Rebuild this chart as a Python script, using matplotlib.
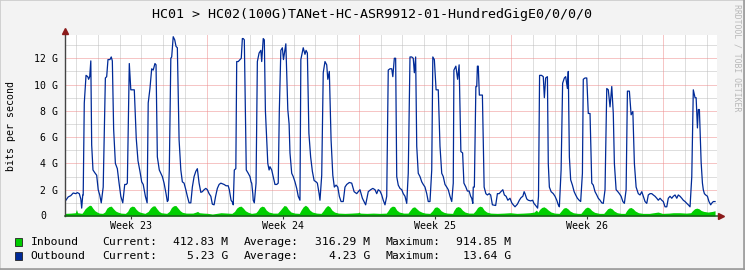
import matplotlib
matplotlib.use("Agg")
import matplotlib.pyplot as plt
from matplotlib.patches import Rectangle

# ---------------------------------------------------------------
# Data, time in days from left edge
# ---------------------------------------------------------------
out_days = [
    0.02, 0.17, 0.29, 0.40, 0.52, 0.59, 0.68, 0.75, 0.79, 0.84, 0.86, 0.91, 0.99, 1.07, 1.11, 1.16,
    1.21, 1.25, 1.31, 1.39, 1.48, 1.55, 1.62, 1.69, 1.78, 1.88, 1.94, 2.00, 2.09, 2.15, 2.20, 2.26,
    2.34, 2.43, 2.51, 2.59, 2.68, 2.77, 2.84, 2.89, 2.98, 3.05, 3.21, 3.30, 3.38, 3.47, 3.55, 3.62,
    3.72, 3.80, 3.85, 3.93, 4.01, 4.08, 4.16, 4.21, 4.27, 4.36, 4.43, 4.50, 4.58, 4.67, 4.73, 4.77,
    4.82, 4.89, 4.93, 5.00, 5.07, 5.13, 5.19, 5.27, 5.35, 5.42, 5.50, 5.58, 5.65, 5.73, 5.81, 5.88,
    5.96, 6.04, 6.11, 6.19, 6.27, 6.34, 6.42, 6.50, 6.57, 6.65, 6.73, 6.80, 6.88, 6.95, 7.03, 7.11,
    7.19, 7.26, 7.34, 7.43, 7.53, 7.58, 7.66, 7.74, 7.76, 7.81, 7.88, 7.92, 7.99, 8.07, 8.13, 8.18,
    8.22, 8.27, 8.32, 8.36, 8.45, 8.53, 8.58, 8.61, 8.66, 8.68, 8.73, 8.81, 8.87, 8.95, 9.03, 9.07,
    9.14, 9.19, 9.24, 9.30, 9.35, 9.41, 9.45, 9.53, 9.60, 9.68, 9.76, 9.83, 9.88, 9.95, 10.02, 10.07,
    10.18, 10.27, 10.33, 10.37, 10.45, 10.52, 10.60, 10.68, 10.75, 10.83, 10.87, 10.98, 11.06, 11.11, 11.17, 11.24,
    11.32, 11.40, 11.48, 11.57, 11.63, 11.71, 11.75, 11.83, 11.90, 11.98, 12.06, 12.11, 12.18, 12.26, 12.34, 12.41,
    12.49, 12.57, 12.64, 12.72, 12.82, 12.90, 12.98, 13.10, 13.21, 13.32, 13.44, 13.51, 13.59, 13.70, 13.85, 13.97,
    14.08, 14.18, 14.28, 14.36, 14.43, 14.51, 14.59, 14.66, 14.74, 14.82, 14.89, 14.97, 15.05, 15.10, 15.17, 15.23,
    15.28, 15.35, 15.43, 15.51, 15.58, 15.66, 15.74, 15.81, 15.89, 15.97, 16.04, 16.09, 16.15, 16.20, 16.27, 16.35,
    16.43, 16.50, 16.58, 16.66, 16.73, 16.81, 16.89, 16.94, 17.01, 17.09, 17.19, 17.27, 17.35, 17.42, 17.50, 17.58,
    17.65, 17.73, 17.81, 17.88, 17.91, 18.00, 18.08, 18.15, 18.23, 18.31, 18.37, 18.46, 18.53, 18.61, 18.68, 18.73,
    18.78, 18.80, 18.85, 18.92, 18.96, 18.99, 19.03, 19.08, 19.22, 19.30, 19.38, 19.45, 19.53, 19.60, 19.68, 19.83,
    19.91, 19.99, 20.07, 20.16, 20.23, 20.31, 20.39, 20.49, 20.57, 20.64, 20.72, 20.83, 20.92, 21.00, 21.08, 21.14,
    21.18, 21.26, 21.33, 21.44, 21.53, 21.59, 21.67, 21.76, 21.80, 21.85, 21.94, 22.02, 22.07, 22.13, 22.21, 22.25,
    22.30, 22.38, 22.48, 22.56, 22.64, 22.71, 22.76, 22.84, 22.91, 22.99, 23.05, 23.13, 23.17, 23.22, 23.28, 23.36,
    23.44, 23.51, 23.59, 23.67, 23.74, 23.82, 23.86, 23.94, 24.02, 24.09, 24.17, 24.25, 24.32, 24.40, 24.48, 24.55,
    24.63, 24.71, 24.78, 24.86, 24.94, 25.01, 25.09, 25.17, 25.24, 25.29, 25.37, 25.45, 25.52, 25.60, 25.68, 25.75,
    25.83, 25.89, 25.98, 26.06, 26.14, 26.21, 26.29, 26.39, 26.47, 26.55, 26.62, 26.70, 26.78, 26.85, 26.93, 27.01,
    27.08, 27.16, 27.24, 27.31, 27.39, 27.47, 27.54, 27.62, 27.70, 27.77, 27.85, 27.93, 28.00, 28.08, 28.16, 28.23,
    28.31, 28.39, 28.46, 28.54, 28.62, 28.69, 28.77, 28.85, 28.92, 29.00, 29.05, 29.11, 29.15, 29.20, 29.28, 29.34,
    29.38, 29.43, 29.49, 29.57, 29.64, 29.72, 29.76, 29.84, 29.92,
]
out_gbps = [
    1.1, 1.45, 1.55, 1.75, 1.7, 1.78, 1.7, 1.3, 0.6, 1.6, 1.6, 8.6, 10.7, 10.6, 10.4, 10.6,
    11.8, 5.4, 3.5, 3.3, 3.1, 2.0, 1.6, 1.0, 2.2, 10.5, 10.6, 11.9, 11.9, 12.1, 11.8, 6.6,
    4.0, 3.6, 2.5, 1.5, 1.0, 2.4, 2.4, 2.5, 11.6, 9.6, 9.6, 5.9, 4.2, 3.4, 2.6, 2.4,
    1.5, 1.0, 8.6, 9.7, 11.2, 11.1, 11.6, 11.5, 4.5, 3.5, 3.25, 3.0, 2.5, 1.7, 1.1, 1.2,
    3.5, 12.0, 12.1, 13.64, 13.4, 12.9, 12.8, 5.8, 3.5, 2.6, 2.5, 2.0, 1.5, 1.0, 1.0, 2.2,
    3.0, 3.4, 3.6, 2.5, 1.8, 1.85, 2.0, 2.1, 2.0, 1.7, 1.5, 0.9, 0.85, 1.5, 2.1, 2.4,
    2.5, 2.45, 2.4, 2.3, 2.3, 2.0, 1.2, 1.0, 0.85, 3.5, 3.6, 11.75, 11.75, 11.9, 12.0, 13.5,
    13.5, 13.4, 8.0, 3.5, 3.25, 3.0, 2.6, 2.5, 1.7, 1.2, 1.0, 2.5, 11.75, 12.4, 12.6, 11.75,
    13.5, 13.4, 8.0, 5.8, 4.0, 3.5, 3.75, 3.5, 3.0, 2.4, 2.4, 2.5, 8.0, 12.6, 12.8, 11.9,
    13.1, 8.1, 7.0, 4.8, 3.25, 3.0, 2.6, 2.1, 1.5, 1.2, 11.9, 12.8, 12.3, 12.6, 12.4, 6.3,
    4.5, 3.4, 2.7, 2.6, 2.5, 1.7, 1.2, 3.1, 10.9, 11.75, 11.5, 10.4, 11.0, 5.8, 3.1, 2.2,
    2.35, 2.2, 1.5, 1.1, 1.1, 2.2, 2.4, 2.55, 2.5, 1.85, 1.7, 1.85, 2.0, 1.35, 0.85, 1.85,
    2.0, 2.1, 2.0, 1.7, 2.0, 1.9, 1.6, 1.2, 0.85, 1.5, 11.1, 11.2, 11.2, 10.6, 12.0, 12.0,
    3.0, 2.35, 2.1, 2.0, 1.7, 1.5, 0.96, 3.25, 12.1, 12.1, 12.0, 10.9, 12.1, 5.3, 3.25, 3.0,
    2.6, 2.4, 2.2, 1.7, 1.1, 1.1, 3.5, 12.1, 11.9, 9.6, 9.6, 5.3, 3.25, 3.0, 2.4, 2.2,
    2.0, 1.5, 1.1, 2.5, 11.1, 11.4, 10.4, 11.5, 4.9, 4.8, 2.5, 2.2, 1.9, 1.9, 1.5, 1.35,
    0.96, 2.2, 2.2, 9.85, 9.85, 11.4, 11.4, 9.2, 9.2, 2.2, 1.7, 1.6, 1.7, 1.6, 0.85, 0.8,
    1.7, 1.7, 1.85, 2.0, 1.6, 1.5, 1.2, 1.35, 1.0, 0.85, 0.7, 0.9, 1.2, 1.4, 1.5, 1.85,
    1.7, 1.3, 1.2, 1.15, 1.2, 0.96, 0.8, 0.6, 1.5, 10.7, 10.7, 10.6, 9.0, 10.5, 10.6, 4.0,
    2.2, 1.85, 1.7, 1.5, 1.2, 0.85, 0.7, 3.5, 10.1, 10.5, 10.6, 9.7, 11.0, 4.5, 2.75, 2.35,
    1.85, 1.6, 1.35, 1.2, 1.1, 3.25, 10.4, 10.5, 10.5, 7.8, 7.8, 2.5, 2.35, 1.85, 1.6, 1.35,
    1.2, 1.0, 0.96, 2.0, 9.7, 9.6, 8.3, 9.85, 7.8, 4.0, 2.0, 1.85, 1.7, 1.5, 1.1, 0.96,
    2.0, 9.5, 9.5, 7.7, 7.95, 4.0, 2.2, 1.7, 1.6, 1.85, 1.5, 1.1, 0.96, 1.6, 1.7, 1.7,
    1.6, 1.5, 1.35, 1.2, 1.35, 1.2, 1.1, 0.7, 0.7, 1.35, 1.5, 1.35, 1.5, 1.6, 1.35, 1.6,
    1.5, 1.35, 1.2, 1.1, 0.96, 0.85, 0.7, 3.0, 9.6, 9.0, 9.0, 6.7, 8.1, 8.1, 4.1, 2.5,
    2.0, 1.7, 1.6, 1.5, 1.1, 0.85, 0.96, 1.1, 1.1,
]

in_days = [
    0.02, 0.30, 0.50, 0.55, 0.60, 0.80, 0.85, 0.95, 1.05, 1.15, 1.22, 1.30, 1.40, 1.50, 1.60, 1.75,
    1.85, 1.95, 2.05, 2.15, 2.25, 2.35, 2.45, 2.60, 2.80, 2.90, 3.00, 3.10, 3.20, 3.30, 3.40, 3.50,
    3.70, 3.85, 3.95, 4.05, 4.15, 4.25, 4.35, 4.45, 4.70, 4.82, 4.92, 5.02, 5.12, 5.22, 5.32, 5.42,
    5.60, 5.90, 6.05, 6.12, 6.20, 6.40, 6.60, 6.80, 7.00, 7.20, 7.50, 7.70, 7.82, 7.92, 8.02, 8.12,
    8.22, 8.32, 8.45, 8.60, 8.80, 8.88, 8.98, 9.08, 9.18, 9.28, 9.40, 9.60, 9.80, 9.90, 10.00, 10.10,
    10.20, 10.30, 10.42, 10.60, 10.80, 10.88, 10.98, 11.08, 11.18, 11.28, 11.40, 11.60, 11.80, 11.90, 12.00, 12.10,
    12.20, 12.30, 12.42, 12.60, 12.90, 13.20, 13.50, 13.55, 13.60, 13.90, 14.20, 14.50, 14.80, 14.88, 14.98, 15.08,
    15.18, 15.28, 15.40, 15.60, 15.80, 15.90, 16.00, 16.10, 16.20, 16.30, 16.45, 16.60, 16.80, 16.92, 17.02, 17.12,
    17.22, 17.32, 17.45, 17.60, 17.85, 17.90, 18.00, 18.10, 18.20, 18.30, 18.42, 18.60, 18.80, 18.90, 19.00, 19.10,
    19.20, 19.30, 19.42, 19.60, 19.90, 20.20, 20.50, 20.80, 21.10, 21.40, 21.60, 21.70, 21.78, 21.85, 21.95, 22.05,
    22.15, 22.25, 22.38, 22.55, 22.75, 22.85, 22.95, 23.05, 23.15, 23.25, 23.40, 23.60, 23.75, 23.85, 23.95, 24.05,
    24.15, 24.25, 24.38, 24.60, 24.80, 24.88, 24.98, 25.08, 25.18, 25.28, 25.42, 25.60, 25.78, 25.85, 25.95, 26.05,
    26.15, 26.25, 26.40, 26.60, 26.90, 27.10, 27.30, 27.50, 27.80, 28.00, 28.30, 28.60, 28.80, 28.88, 28.98, 29.08,
    29.18, 29.28, 29.40, 29.60, 29.80, 29.92,
]
in_gbps = [
    0.2, 0.22, 0.25, 0.5, 0.25, 0.2, 0.3, 0.55, 0.7, 0.82, 0.8, 0.6, 0.4, 0.3, 0.22, 0.2,
    0.3, 0.6, 0.72, 0.75, 0.55, 0.38, 0.3, 0.22, 0.2, 0.35, 0.65, 0.75, 0.72, 0.5, 0.35, 0.28,
    0.2, 0.35, 0.6, 0.75, 0.78, 0.55, 0.35, 0.25, 0.2, 0.35, 0.65, 0.78, 0.8, 0.6, 0.4, 0.28,
    0.22, 0.22, 0.3, 0.35, 0.25, 0.22, 0.2, 0.15, 0.2, 0.25, 0.22, 0.2, 0.35, 0.6, 0.72, 0.75,
    0.6, 0.4, 0.28, 0.2, 0.25, 0.4, 0.65, 0.75, 0.7, 0.45, 0.3, 0.22, 0.22, 0.4, 0.6, 0.8,
    0.75, 0.5, 0.3, 0.22, 0.2, 0.45, 0.7, 0.82, 0.7, 0.45, 0.3, 0.22, 0.2, 0.4, 0.65, 0.8,
    0.7, 0.45, 0.3, 0.22, 0.2, 0.22, 0.25, 0.3, 0.22, 0.2, 0.22, 0.2, 0.22, 0.4, 0.65, 0.75,
    0.72, 0.45, 0.3, 0.22, 0.22, 0.45, 0.65, 0.7, 0.55, 0.4, 0.28, 0.22, 0.2, 0.4, 0.65, 0.7,
    0.6, 0.4, 0.28, 0.22, 0.2, 0.4, 0.65, 0.72, 0.65, 0.45, 0.3, 0.22, 0.22, 0.4, 0.65, 0.75,
    0.7, 0.45, 0.3, 0.22, 0.2, 0.22, 0.25, 0.2, 0.22, 0.25, 0.3, 0.45, 0.3, 0.5, 0.65, 0.7,
    0.6, 0.45, 0.3, 0.22, 0.2, 0.4, 0.6, 0.65, 0.55, 0.38, 0.25, 0.2, 0.2, 0.4, 0.6, 0.68,
    0.6, 0.42, 0.28, 0.2, 0.2, 0.35, 0.55, 0.62, 0.55, 0.38, 0.25, 0.2, 0.2, 0.4, 0.6, 0.65,
    0.55, 0.38, 0.25, 0.2, 0.2, 0.25, 0.3, 0.2, 0.22, 0.25, 0.25, 0.22, 0.25, 0.4, 0.55, 0.6,
    0.55, 0.42, 0.35, 0.3, 0.35, 0.4,
]

TITLE = "HC01 > HC02(100G)TANet-HC-ASR9912-01-HundredGigE0/0/0/0"
WEEK_LABELS = ["Week 23", "Week 24", "Week 25", "Week 26"]
WEEK_LABEL_DAYS = [3.04, 10.04, 17.04, 24.04]
DAY_LINES = [0.54 + k for k in range(30)]
WEEK_LINES = [6.54, 13.54, 20.54, 27.54]
Y_TICKS = [2, 4, 6, 8, 10, 12]
Y_TICK_LABELS = ["2 G", "4 G", "6 G", "8 G", "10 G", "12 G"]

LEGEND_NAMES = ["Inbound", "Outbound"]
LEGEND_COLORS = ["#00CC00", "#002A97"]
CURRENT = ["412.83 M", "5.23 G"]
AVERAGE = ["316.29 M", "4.23 G"]
MAXIMUM = ["914.85 M", "13.64 G"]

# ---------------------------------------------------------------
W, H = 745, 270
MONO = "DejaVu Sans Mono"


def fx(x):
    return x / W


def fy(y):
    return 1 - y / H


fig = plt.figure(figsize=(W / 100, H / 100), dpi=100, facecolor="#F3F3F3")
ax = fig.add_axes([fx(64.5), fy(216), 652.5 / W, 181 / H])
ax.set_facecolor("white")
ax.set_xlim(0, 30.01)
ax.set_ylim(0, 13.77)
for s in ax.spines.values():
    s.set_visible(False)

# grid: grey minor lines, red major lines (dotted, as rrdtool draws them)
dot = (0, (1, 1))
for d in DAY_LINES:
    if d not in WEEK_LINES:
        ax.axvline(d, color="#BEBEBE", lw=0.72, ls=dot, zorder=1)
for g in range(1, 14):
    col = "#EE8C8C" if g % 2 == 0 else "#BEBEBE"
    ax.axhline(g, color=col, lw=0.72, ls=dot, zorder=1)
for d in WEEK_LINES:
    ax.axvline(d, color="#EE8C8C", lw=0.72, ls=dot, zorder=1)

ax.fill_between(in_days, 0, in_gbps, color="#00CF00", lw=0, zorder=3)
ax.plot(out_days, out_gbps, color="#002A97", lw=0.9, zorder=4)

# axes with arrows
ax.plot([0, 0], [0, 14.0], color="#444444", lw=1.0, clip_on=False, zorder=5)
ax.plot([0, 30.2], [0, 0], color="#1E5A1E", lw=1.1, clip_on=False, zorder=5)
ax.plot([0], [14.05], marker="^", ms=4.5, color="#8B1A1A", clip_on=False, zorder=6)
ax.plot([30.2], [0], marker=">", ms=4.5, color="#8B1A1A", clip_on=False, zorder=6)

ax.set_xticks(WEEK_LABEL_DAYS, WEEK_LABELS, fontfamily=MONO, fontsize=7.2)
ax.tick_params(axis="x", length=2.5, width=0.8, color="#333333", pad=1.2)
ax.set_yticks(Y_TICKS, Y_TICK_LABELS, fontfamily=MONO, fontsize=7.1)
ax.tick_params(axis="y", length=0, pad=5)
fig.text(fx(46), fy(216), "0", family=MONO, fontsize=7.1, ha="right", va="center")

fig.text(fx(372.5), fy(14.5), TITLE, family=MONO, fontsize=9.6, ha="center", va="center")
fig.text(fx(11), fy(126), "bits per second", family=MONO, fontsize=7.1,
         rotation=90, ha="center", va="center")
fig.text(fx(737), fy(4), "RRDTOOL / TOBI OETIKER", family=MONO, fontsize=5.9,
         rotation=270, ha="center", va="top", color="#B8B8B8")

# legend rows
for i, name in enumerate(LEGEND_NAMES):
    yc = 242 + 14 * i
    fig.patches.append(Rectangle((fx(15), fy(yc + 3.8)), 7.5 / W, 7.5 / H,
                                 transform=fig.transFigure, facecolor=LEGEND_COLORS[i],
                                 edgecolor="#222222", lw=0.6))
    kw = dict(family=MONO, fontsize=8.2, va="center")
    fig.text(fx(30.5), fy(yc), name, ha="left", **kw)
    fig.text(fx(102), fy(yc), "Current:", ha="left", **kw)
    fig.text(fx(228.5), fy(yc), CURRENT[i], ha="right", **kw)
    fig.text(fx(244), fy(yc), "Average:", ha="left", **kw)
    fig.text(fx(370), fy(yc), AVERAGE[i], ha="right", **kw)
    fig.text(fx(386), fy(yc), "Maximum:", ha="left", **kw)
    fig.text(fx(511.5), fy(yc), MAXIMUM[i], ha="right", **kw)

# outer shading
fig.patches.append(Rectangle((0, 0), 1, 1, transform=fig.transFigure, fill=False,
                             edgecolor="#CBCBCB", lw=1.2))
fig.lines.append(plt.Line2D([fx(744), fx(744)], [0, 1], transform=fig.transFigure,
                            color="#999999", lw=1.2))
fig.lines.append(plt.Line2D([0, 1], [fy(269.3), fy(269.3)], transform=fig.transFigure,
                            color="#999999", lw=1.2))

fig.savefig("out.png", dpi=100, facecolor=fig.get_facecolor())
